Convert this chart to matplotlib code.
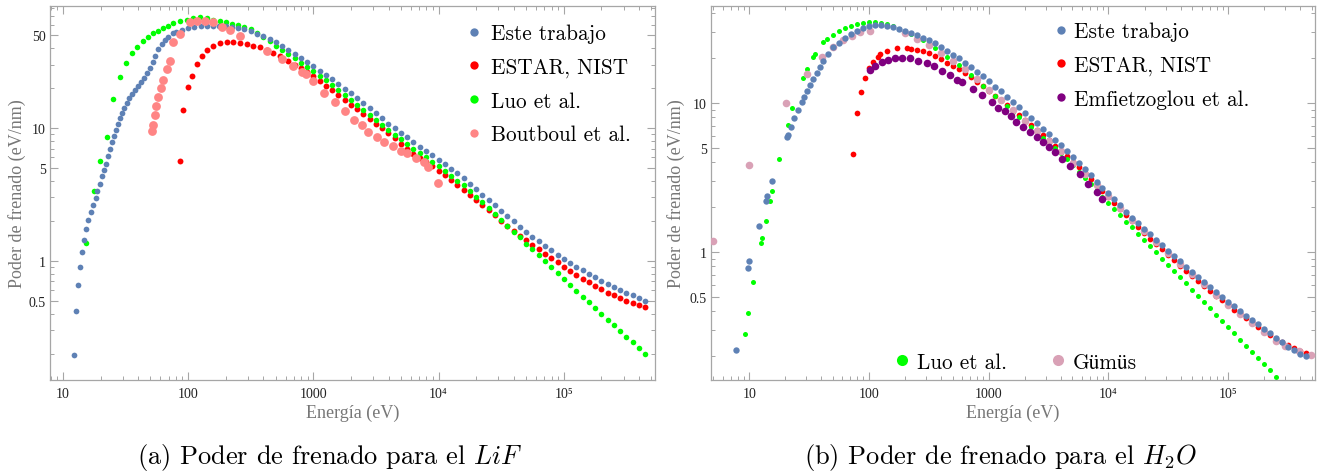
import numpy as np
import matplotlib
matplotlib.use('Agg')
import matplotlib.pyplot as plt
from matplotlib.lines import Line2D
from matplotlib.ticker import FixedLocator, LogLocator, NullFormatter

plt.rcParams['font.family'] = ['Liberation Serif', 'DejaVu Serif']
plt.rcParams['mathtext.fontset'] = 'cm'

# energy grid (eV), 20 points per decade, shared by the dense series
E_GRID = [10, 11.2, 12.6, 14.1, 15.8, 17.8, 20.0, 22.4, 25.1, 28.2, 31.6, 35.5, 39.8, 44.7, 50.1, 56.2, 63.1, 70.8, 79.4, 89.1,
          100, 112, 126, 141, 158, 178, 200, 224, 251, 282, 316, 355, 398, 447, 501, 562, 631, 708, 794, 891,
          1000, 1122, 1259, 1413, 1585, 1778, 1995, 2239, 2512, 2818, 3162, 3548, 3981, 4467, 5012, 5623, 6310, 7079, 7943, 8913,
          10000, 11220, 12590, 14130, 15850, 17780, 19950, 22390, 25120, 28180, 31620, 35480, 39810, 44670, 50120, 56230, 63100, 70790, 79430, 89130,
          100000, 112200, 125900, 141300, 158500, 177800, 199500, 223900, 251200, 281800, 316200, 354800, 398100, 446700, 501200]

# ---------------- LiF ----------------
lif_este_E = [12.2, 12.7, 13.2, 13.7, 14.2, 14.7, 15.3, 15.9, 16.7, 17.5, 18.3, 18.9, 19.8, 20.5, 21.3, 22.1,
              22.9, 23.8, 24.7, 25.6, 26.5, 27.5, 28.6, 29.6, 30.8, 32.3, 33.9, 35.6, 37.7, 39.8, 42.1, 44.5,
              47.0, 49.7, 52.2, 54.7, 57.8, 61.6, 65.5, 69.5, 76.2]
lif_este_S = [0.196, 0.42, 0.66, 0.90, 1.17, 1.44, 1.74, 2.03, 2.32, 2.64, 2.98, 3.34, 3.79, 4.38, 4.86, 5.39,
              6.19, 6.95, 7.80, 8.75, 9.71, 10.7, 11.8, 13.0, 14.1, 15.4, 16.7, 18.0, 19.4, 20.8, 22.3, 23.9,
              25.9, 28.1, 31.2, 35.0, 39.3, 42.8, 46.1, 48.6, 51.5]
lif_este_grid_start = 18
lif_este_grid_S = [52.4, 54.6, 56.6, 57.5, 58.5, 58.7, 58.7, 58.7, 58.3, 57.4,
                   56.5, 55.3, 53.5, 51.3, 49.0, 46.6, 44.2, 41.5, 38.7, 36.1,
                   33.5, 31.1, 29.0, 26.9, 25.0, 23.2, 21.4, 19.7, 18.2, 16.7,
                   15.3, 14.1, 12.9, 11.8, 10.8, 10.0, 9.23, 8.51, 7.85, 7.24,
                   6.71, 6.21, 5.75, 5.33, 4.95, 4.55, 4.17, 3.80, 3.46, 3.15,
                   2.87, 2.62, 2.39, 2.18, 1.99, 1.81, 1.65, 1.51, 1.40, 1.30,
                   1.20, 1.11, 1.035, 0.966, 0.904, 0.849, 0.798, 0.750, 0.710, 0.673,
                   0.638, 0.607, 0.577, 0.550, 0.525, 0.501]

lif_estar_E = [86, 91, 100, 108, 118, 129, 142, 158, 180, 205, 229, 261, 297, 331, 377, 428, 480, 545]
lif_estar_S = [5.65, 13.7, 20.3, 24.6, 30.3, 34.8, 38.6, 41.4, 43.6, 44.3, 44.3, 43.6, 42.8, 41.4, 40.6, 38.6, 36.8, 34.8]
lif_estar_grid_start = 36
lif_estar_grid_S = [32.0, 29.9, 28.1, 26.3, 24.6, 22.6, 20.8, 19.2, 17.7, 16.3, 15.0, 13.8,
                    12.7, 11.7, 10.8, 9.95, 9.12, 8.34, 7.62, 6.97, 6.38, 5.93, 5.51, 5.13,
                    4.76, 4.42, 4.06, 3.70, 3.40, 3.12, 2.86, 2.62, 2.40, 2.20, 2.00, 1.83,
                    1.67, 1.55, 1.43, 1.32, 1.22, 1.13, 1.05, 0.973, 0.906, 0.843, 0.787, 0.736,
                    0.690, 0.649, 0.611, 0.578, 0.550, 0.524, 0.501, 0.481, 0.463, 0.447]

lif_luo_E = [15.3, 17.7, 19.8, 22.5, 25.1, 28.6, 31.9, 35.6, 39.1, 43.6, 47.9, 52.5, 57.5, 63.0, 69.0, 76.0,
             86.0, 98.0, 110, 125, 142, 158, 180]
lif_luo_S = [1.36, 3.36, 5.65, 8.56, 16.5, 24.2, 30.8, 36.6, 40.6, 45.1, 48.3, 51.8, 53.6, 56.5, 58.5, 61.6,
             63.8, 64.9, 67.1, 68.4, 67.0, 64.9, 63.8]
lif_luo_grid_start = 26
lif_luo_grid_S = [62.4, 61.0, 59.4, 57.9, 55.6, 52.0, 48.4, 44.9, 41.5, 38.5, 35.9, 33.4,
                  31.0, 28.8, 26.9, 24.7, 22.8, 20.9, 19.3, 17.7, 16.3, 14.9, 13.6, 12.5,
                  11.4, 10.5, 9.68, 8.91, 8.20, 7.55, 6.95, 6.46, 6.0, 5.57, 5.15, 4.76,
                  4.35, 4.02, 3.72, 3.38, 3.05, 2.76, 2.49, 2.25, 2.04, 1.84, 1.66, 1.50,
                  1.35, 1.22, 1.10, 0.991, 0.893, 0.805, 0.726, 0.656, 0.594, 0.538, 0.488, 0.442,
                  0.400, 0.362, 0.328, 0.297, 0.269, 0.244, 0.221, 0.200]

lif_bout_E = [51.5, 52.5, 54.5, 55.5, 57.5, 60.8, 63.0, 68.0, 71.8, 76.0, 86.0, 104, 118, 137, 158, 187, 217, 261,
              428, 565, 692, 817, 879, 1000, 1225, 1500, 1800, 2130, 2470, 2750, 3250, 3700, 4290, 4970, 5550,
              6550, 7590, 8170, 9820]
lif_bout_S = [9.5, 10.5, 12.5, 14.6, 17.1, 20.0, 23.0, 27.8, 31.9, 44.3, 50.9, 62.6, 63.8, 63.8, 62.6, 57.5, 54.6, 49.2,
              37.9, 33.0, 29.3, 26.4, 25.5, 22.5, 18.3, 15.7, 13.4, 11.5, 10.5, 9.3, 8.6, 7.85, 7.3, 6.7, 6.5,
              5.95, 5.55, 5.09, 3.86]

# ---------------- H2O ----------------
h2o_este_E = [7.8, 9.8, 10.0, 12.1, 13.9, 14.1, 15.6, 20.7, 21.0, 22.4, 23.7, 25.6, 27.7, 28.7, 30.4, 32.2,
              34.1, 36.9, 39.0, 41.4, 45.5]
h2o_este_S = [0.22, 0.78, 0.87, 1.49, 2.2, 2.38, 3.0, 5.9, 6.1, 6.9, 7.9, 9.0, 10.2, 11.0, 12.0, 13.2,
              14.5, 15.9, 17.5, 19.1, 21.3]
h2o_este_grid_start = 14
h2o_este_grid_S = [23.8, 25.4, 27.2, 28.9, 30.5, 31.8, 32.8, 33.3, 33.4, 33.1, 32.4, 31.3,
                   30.3, 29.4, 28.4, 27.5, 26.5, 25.1, 23.8, 22.5, 21.1, 19.9, 18.6, 17.4,
                   16.2, 15.1, 14.0, 12.9, 12.0, 11.0, 10.2, 9.38, 8.63, 7.94, 7.29, 6.70,
                   6.15, 5.65, 5.19, 4.73, 4.32, 3.94, 3.59, 3.27, 2.97, 2.70, 2.47, 2.25,
                   2.05, 1.86, 1.70, 1.56, 1.43, 1.31, 1.21, 1.11, 1.02, 0.938, 0.863, 0.794,
                   0.731, 0.675, 0.624, 0.578, 0.537, 0.499, 0.463, 0.431, 0.401, 0.374, 0.349, 0.326,
                   0.304, 0.284, 0.264, 0.247, 0.231, 0.219, 0.207, 0.200]

h2o_estar_E = [73.6, 79.4, 85.8, 92.6, 100, 108, 119, 124, 141, 171, 207]
h2o_estar_S = [4.55, 8.57, 11.9, 14.7, 17.2, 18.8, 20.4, 21.3, 22.3, 23.4, 23.4]
h2o_estar_grid_start = 27
h2o_estar_grid_S = [23.2, 22.7, 22.3, 21.6, 20.6, 19.6, 18.6, 17.7, 16.8, 15.8, 14.9, 13.9,
                    13.0, 12.1, 11.2, 10.4, 9.66, 8.95, 8.28, 7.66, 7.08, 6.55, 6.05, 5.60,
                    5.18, 4.79, 4.40, 4.03, 3.69, 3.38, 3.09, 2.82, 2.57, 2.34, 2.13, 1.94,
                    1.77, 1.61, 1.47, 1.35, 1.23, 1.13, 1.04, 0.955, 0.879, 0.809, 0.745, 0.687,
                    0.635, 0.587, 0.546, 0.507, 0.472, 0.440, 0.409, 0.383, 0.358, 0.335, 0.314, 0.295,
                    0.277, 0.261, 0.247, 0.236, 0.225, 0.217, 0.210]

h2o_emf_E = [102, 112, 128, 144, 165, 188, 220, 256, 304, 348, 406, 473, 541, 596, 736, 875, 1059, 1190,
             1358, 1549, 1698, 1919, 2198, 2512, 2818, 3162, 3548, 4055, 4732, 5728, 6683, 7943, 8913]
h2o_emf_S = [16.6, 17.7, 18.8, 19.4, 20.0, 20.0, 20.0, 19.1, 18.5, 17.7, 16.4, 15.4, 14.3, 13.8, 12.4, 11.3, 10.1, 9.25,
             8.83, 8.18, 7.45, 6.9, 6.38, 5.91, 5.47, 5.05, 4.69, 4.21, 3.78, 3.34, 2.86, 2.53, 2.27]

h2o_luo_E = [9.3, 9.8, 10.8, 12.6, 12.8, 13.9, 15.0, 15.6, 17.8, 21.1, 22.8, 28.2, 30.4, 34.1, 35.5, 41.4]
h2o_luo_S = [0.28, 0.39, 0.63, 1.15, 1.24, 1.61, 2.2, 2.57, 4.2, 7.1, 9.25, 14.7, 16.9, 20.4, 21.3, 25.7]
h2o_luo_grid_start = 13
h2o_luo_grid_S = [26.9, 28.7, 30.3, 31.8, 33.0, 33.9, 34.6, 35.0, 35.0, 34.6, 33.9, 32.8,
                  31.6, 30.3, 29.0, 27.6, 26.3, 24.8, 23.3, 21.8, 20.4, 19.1, 17.9, 16.6,
                  15.3, 14.2, 13.1, 12.1, 11.2, 10.3, 9.48, 8.73, 8.05, 7.43, 6.85, 6.34,
                  5.86, 5.42, 5.01, 4.62, 4.20, 3.81, 3.46, 3.14, 2.85, 2.59, 2.35, 2.14,
                  1.94, 1.76, 1.60, 1.46, 1.32, 1.20, 1.09, 0.991, 0.90, 0.818, 0.743, 0.675,
                  0.614, 0.557, 0.506, 0.459, 0.418, 0.379, 0.344, 0.313, 0.284, 0.258, 0.235, 0.213,
                  0.194, 0.176, 0.160, 0.145, 0.132]

h2o_gumus_E = [5.0, 10.0, 20.3, 30.4, 40.6, 50.1, 60.7, 72.0, 84.0, 102, 200, 251, 316, 398, 501, 631, 794,
               1000, 1259, 1585, 1995, 2512, 3162, 3981, 5012, 6310, 7943, 10000, 12590, 15850, 19950, 25120,
               31620, 39810, 50120, 63100, 79430, 100000, 125900, 158500, 199500, 251200, 295000, 389000, 492000]
h2o_gumus_S = [1.19, 3.84, 10.0, 15.7, 20.4, 23.8, 26.5, 28.2, 30.0, 30.4, 29.5, 26.9, 24.5, 21.6, 19.1, 16.8, 14.5,
               12.3, 10.5, 8.91, 7.59, 6.49, 5.56, 4.73, 3.98, 3.35, 2.82, 2.37, 1.97, 1.64, 1.38, 1.16,
               0.977, 0.832, 0.708, 0.610, 0.513, 0.443, 0.383, 0.333, 0.290, 0.254, 0.234, 0.217, 0.204]


def with_grid(E, S, start, gS):
    return list(E) + E_GRID[start:start + len(gS)], list(S) + list(gS)


BLUE = '#5e81b5'
RED = '#ff0000'
GREEN = '#00ff00'
SALMON = '#ff8585'
PURPLE = '#800080'
PINK = '#d9a1b6'
SPINE = '#a6a6a6'
LEG = ['cmr10', 'STIXGeneral', 'DejaVu Serif']

fig = plt.figure(figsize=(13.19, 4.77), dpi=100)
ax1 = fig.add_axes([50 / 1319, 96 / 477, 605 / 1319, 374 / 477])
ax2 = fig.add_axes([711 / 1319, 96 / 477, 604 / 1319, 374 / 477])


def style(ax, xlim, ylim):
    ax.set_xscale('log')
    ax.set_yscale('log')
    ax.set_xlim(*xlim)
    ax.set_ylim(*ylim)
    for sp in ax.spines.values():
        sp.set_color(SPINE)
        sp.set_linewidth(0.9)
    ax.xaxis.set_major_locator(FixedLocator([10, 100, 1000, 1e4, 1e5]))
    ax.set_xticklabels(['10', '100', '1000', '10⁴', '10⁵'])
    ax.xaxis.set_minor_locator(LogLocator(base=10, subs=np.arange(2, 10), numticks=20))
    ax.xaxis.set_minor_formatter(NullFormatter())
    yt = [v for v in [0.5, 1, 5, 10, 50] if ylim[0] < v < ylim[1]]
    ax.yaxis.set_major_locator(FixedLocator(yt))
    ax.set_yticklabels([('%g' % v) for v in yt])
    ax.yaxis.set_minor_locator(LogLocator(base=10, subs=np.arange(2, 10), numticks=20))
    ax.yaxis.set_minor_formatter(NullFormatter())
    ax.tick_params(which='both', direction='in', top=True, right=True, color=SPINE, labelcolor='#222222')
    ax.tick_params(which='major', length=6, width=0.8)
    ax.tick_params(which='minor', length=3, width=0.7)
    ax.tick_params(axis='x', labelsize=10, pad=5)
    ax.tick_params(axis='y', labelsize=10, pad=3)
    ax.set_xlabel('Energía (eV)', color='#777777', fontsize=13)
    ax.set_ylabel('Poder de frenado (eV/nm)', color='#777777', fontsize=13)


# ----- left panel: LiF -----
style(ax1, (7.9, 5.35e5), (0.127, 82.7))
x, y = with_grid(lif_este_E, lif_este_S, lif_este_grid_start, lif_este_grid_S)
ax1.scatter(x, y, s=17, color=BLUE, linewidths=0, zorder=3)
x, y = with_grid(lif_estar_E, lif_estar_S, lif_estar_grid_start, lif_estar_grid_S)
ax1.scatter(x, y, s=18, color=RED, linewidths=0, zorder=2)
x, y = with_grid(lif_luo_E, lif_luo_S, lif_luo_grid_start, lif_luo_grid_S)
ax1.scatter(x, y, s=16, color=GREEN, linewidths=0, zorder=2.5)
ax1.scatter(lif_bout_E, lif_bout_S, s=40, color=SALMON, linewidths=0, zorder=4)
ax1.xaxis.set_label_coords(0.5, -0.062)
ax1.yaxis.set_label_coords(-0.04, 0.5)

h1 = [Line2D([], [], ls='', marker='o', ms=6, mec='none', color=c) for c in [BLUE, RED, GREEN, SALMON]]
ax1.legend(h1, ['Este trabajo', 'ESTAR, NIST', 'Luo et al.', 'Boutboul et al.'],
           loc='upper left', bbox_to_anchor=(0.691, 0.953), frameon=False,
           prop={'family': LEG, 'size': 15.3}, handlelength=0.6, handletextpad=0.5,
           labelspacing=0.66, borderpad=0, borderaxespad=0)

# ----- right panel: H2O -----
style(ax2, (4.8, 5.3e5), (0.138, 44.8))
x, y = with_grid(h2o_estar_E, h2o_estar_S, h2o_estar_grid_start, h2o_estar_grid_S)
ax2.scatter(x, y, s=17, color=RED, linewidths=0, zorder=2)
x, y = with_grid(h2o_luo_E, h2o_luo_S, h2o_luo_grid_start, h2o_luo_grid_S)
ax2.scatter(x, y, s=13, color=GREEN, linewidths=0, zorder=2.5)
ax2.scatter(h2o_gumus_E, h2o_gumus_S, s=30, color=PINK, linewidths=0, zorder=3)
ax2.scatter(h2o_emf_E, h2o_emf_S, s=30, color=PURPLE, linewidths=0, zorder=3.5)
x, y = with_grid(h2o_este_E, h2o_este_S, h2o_este_grid_start, h2o_este_grid_S)
ax2.scatter(x, y, s=21, color=BLUE, linewidths=0, zorder=4)
ax2.xaxis.set_label_coords(0.5, -0.062)
ax2.yaxis.set_label_coords(-0.043, 0.5)

h2 = [Line2D([], [], ls='', marker='o', ms=6, mec='none', color=c) for c in [BLUE, RED, PURPLE]]
leg2 = ax2.legend(h2, ['Este trabajo', 'ESTAR, NIST', 'Emfietzoglou et al.'],
                  loc='upper left', bbox_to_anchor=(0.5695, 0.958), frameon=False,
                  prop={'family': LEG, 'size': 15.3}, handlelength=0.6, handletextpad=0.3,
                  labelspacing=0.66, borderpad=0, borderaxespad=0)
ax2.add_artist(leg2)
h3 = [Line2D([], [], ls='', marker='o', ms=8, mec='none', color=c) for c in [GREEN, PINK]]
ax2.legend(h3, ['Luo et al.', 'Gümüs'], ncol=2,
           loc='upper left', bbox_to_anchor=(0.306, 0.074), frameon=False,
           prop={'family': LEG, 'size': 15.3}, handlelength=0.6, handletextpad=0.4,
           columnspacing=2.1, borderpad=0, borderaxespad=0)

# captions
fig.text(330 / 1319, 1 - 458 / 477, r'(a) Poder de frenado para el $LiF$', ha='center', va='center',
         fontsize=19, family=LEG)
fig.text(1000 / 1319, 1 - 458 / 477, r'(b) Poder de frenado para el $H_2O$', ha='center', va='center',
         fontsize=19, family=LEG)

fig.savefig('out.png', dpi=100)
